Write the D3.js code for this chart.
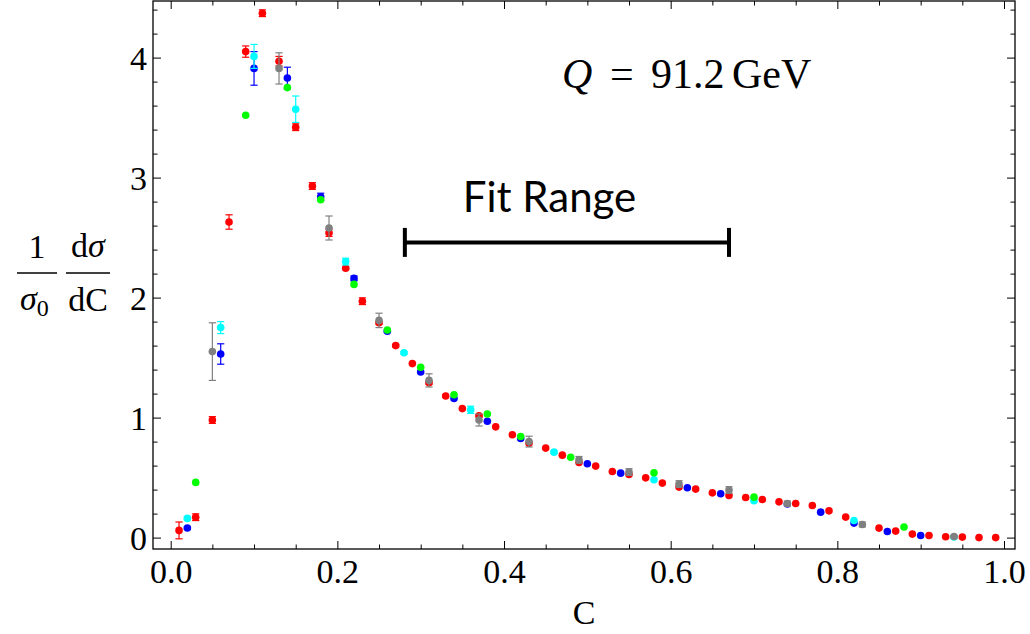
<!DOCTYPE html>
<html><head><meta charset="utf-8">
<script src="https://cdn.jsdelivr.net/npm/d3@7"></script>
<style>body{margin:0;background:#fff}svg{display:block}
.serif{font-family:"Liberation Serif","Times New Roman",Tinos,"DejaVu Serif",serif}
</style>
</head><body><svg id="chart" width="1030" height="634"></svg>
<script>
// ---- data ----
const redC = [0.01,0.03,0.05,0.07,0.09,0.11,0.13,0.15,0.17,0.19,0.21,0.23,0.25,0.27,0.29,0.31,0.33,0.35,0.37,0.39,0.41,0.43,0.45,0.47,0.49,0.51,0.53,0.55,0.57,0.59,0.61,0.63,0.65,0.67,0.69,0.71,0.73,0.75,0.77,0.79,0.81,0.85,0.87,0.89,0.91,0.93,0.95,0.97,0.99];
const redV = [0.06,0.17,0.98,2.63,4.05,4.37,3.97,3.42,2.93,2.54,2.245,1.97,1.79,1.60,1.45,1.29,1.18,1.075,1.015,0.923,0.857,0.787,0.746,0.687,0.626,0.596,0.551,0.526,0.498,0.454,0.421,0.404,0.373,0.351,0.334,0.318,0.298,0.284,0.268,0.223,0.171,0.079,0.054,0.029,0.018,0.007,0.004,0.0,0.0];
const redE = [0.07,0.028,0.028,0.06,0.047,0.028,0.04,0.028,0.028,0.03,0.01,0.028,0.01,0.01,0,0.01,0,0,0.01,0,0,0,0,0,0,0,0,0,0,0,0,0,0,0,0,0,0,0,0,0,0,0,0,0,0,0,0,0,0];

const blueC = [0.02,0.06,0.10,0.14,0.18,0.22,0.26,0.30,0.34,0.38,0.42,0.50,0.54,0.62,0.66,0.74,0.78,0.82,0.86,0.90];
const blueV = [0.08,1.53,3.91,3.83,2.84,2.16,1.72,1.38,1.16,0.97,0.826,0.615,0.537,0.415,0.365,0.28,0.212,0.121,0.051,0.018];
const blueE = [0.01,0.085,0.14,0.09,0.03,0.02,0.01,0,0,0,0,0,0,0,0,0,0,0,0,0];

const cyanC = [0.02,0.06,0.10,0.15,0.21,0.28,0.36,0.46,0.58,0.70,0.82,0.94];
const cyanV = [0.16,1.75,4.01,3.57,2.30,1.54,1.065,0.712,0.482,0.307,0.143,0.005];
const cyanE = [0.01,0.05,0.10,0.11,0.028,0.01,0.03,0.01,0,0,0,0];

const greenC = [0.03,0.09,0.14,0.18,0.22,0.26,0.30,0.34,0.38,0.42,0.48,0.58,0.70,0.88];
const greenV = [0.46,3.52,3.75,2.815,2.11,1.73,1.42,1.19,1.03,0.843,0.67,0.54,0.337,0.088];
const greenE = [0,0,0,0,0,0,0,0,0,0,0,0,0,0];

const grayC = [0.05,0.13,0.19,0.25,0.31,0.37,0.43,0.49,0.55,0.61,0.67,0.74,0.83,0.94];
const grayV = [1.55,3.91,2.58,1.81,1.31,0.98,0.80,0.648,0.546,0.446,0.396,0.284,0.109,0.009];
const grayE = [0.24,0.13,0.10,0.06,0.055,0.05,0.045,0.028,0.028,0.028,0.028,0.02,0.02,0.01];

const xTickValues = [0,0.2,0.4,0.6,0.8,1.0];
const xTickLabels = ["0.0","0.2","0.4","0.6","0.8","1.0"];
const yTickValues = [0,1,2,3,4];
const yTickLabels = ["0","1","2","3","4"];
const fitRange = [0.281, 0.670];
const fitLevel = 2.46;
const fitText = "Fit Range";
const energyText = "91.2";
const xTitle = "C";

// ---- layout ----
const L = 153, R = 1015, T = 1, B = 549;
const x = d3.scaleLinear().domain([-0.02124, 1.0132]).range([L, R]);
const y = d3.scaleLinear().domain([-0.095, 4.4717]).range([B, T]);
const svg = d3.select("#chart");

// ---- axes (ticks inward on all four sides) ----
const xMinor = d3.range(0, 1.0001, 0.05).filter(v => Math.abs(v*5 - Math.round(v*5)) > 1e-6);
const yMinor = d3.range(0, 4.4001, 0.2).filter(v => Math.abs(v - Math.round(v)) > 1e-6);

function styleAxis(g){ g.select(".domain").remove(); g.selectAll("line").attr("stroke","#000").attr("stroke-width",1); g.attr("font-family",null).attr("font-size",null); }

svg.append("g").attr("transform",`translate(0,${B})`)
  .call(d3.axisBottom(x).tickValues(xTickValues).tickSizeInner(-8).tickSizeOuter(0).tickFormat((d,i)=>xTickLabels[i]))
  .call(styleAxis)
  .call(g=>g.selectAll("text").attr("class","serif").attr("y",34).attr("dy",0).style("font-size","34px").attr("fill","#000"));
svg.append("g").attr("transform",`translate(0,${B})`)
  .call(d3.axisBottom(x).tickValues(xMinor).tickSizeInner(-4.5).tickSizeOuter(0).tickFormat(""))
  .call(styleAxis);
svg.append("g").attr("transform",`translate(0,${T})`)
  .call(d3.axisTop(x).tickValues(xTickValues).tickSizeInner(-8).tickSizeOuter(0).tickFormat(""))
  .call(styleAxis);
svg.append("g").attr("transform",`translate(0,${T})`)
  .call(d3.axisTop(x).tickValues(xMinor).tickSizeInner(-4.5).tickSizeOuter(0).tickFormat(""))
  .call(styleAxis);

svg.append("g").attr("transform",`translate(${L},0)`)
  .call(d3.axisLeft(y).tickValues(yTickValues).tickSizeInner(-8).tickSizeOuter(0).tickFormat((d,i)=>yTickLabels[i]))
  .call(styleAxis)
  .call(g=>g.selectAll("text").attr("class","serif").attr("x",-6).attr("dy",11.5).style("font-size","34px").attr("fill","#000"));
svg.append("g").attr("transform",`translate(${L},0)`)
  .call(d3.axisLeft(y).tickValues(yMinor).tickSizeInner(-4.5).tickSizeOuter(0).tickFormat(""))
  .call(styleAxis);
svg.append("g").attr("transform",`translate(${R},0)`)
  .call(d3.axisRight(y).tickValues(yTickValues).tickSizeInner(-8).tickSizeOuter(0).tickFormat(""))
  .call(styleAxis);
svg.append("g").attr("transform",`translate(${R},0)`)
  .call(d3.axisRight(y).tickValues(yMinor).tickSizeInner(-4.5).tickSizeOuter(0).tickFormat(""))
  .call(styleAxis);

svg.append("rect").attr("x",L).attr("y",T).attr("width",R-L).attr("height",B-T)
  .attr("fill","none").attr("stroke","#000").attr("stroke-width",1.3);

// ---- series ----
const series = [
  {c:redC, v:redV, e:redE, color:"#ff0000"},
  {c:blueC, v:blueV, e:blueE, color:"#0000ff"},
  {c:cyanC, v:cyanV, e:cyanE, color:"#00ffff"},
  {c:greenC, v:greenV, e:greenE, color:"#00ff00"},
  {c:grayC, v:grayV, e:grayE, color:"#808080"}
];
const plot = svg.append("g");
series.forEach(s => {
  const pts = s.c.map((c,i)=>({c, v:s.v[i], e:s.e[i]}));
  const g = plot.append("g");
  const eb = g.selectAll("g.eb").data(pts.filter(p=>p.e>0)).join("g").attr("stroke",s.color).attr("stroke-width",1.2);
  eb.append("line").attr("x1",p=>x(p.c)).attr("x2",p=>x(p.c)).attr("y1",p=>y(p.v+p.e)).attr("y2",p=>y(p.v-p.e));
  eb.append("line").attr("x1",p=>x(p.c)-3.6).attr("x2",p=>x(p.c)+3.6).attr("y1",p=>y(p.v+p.e)).attr("y2",p=>y(p.v+p.e));
  eb.append("line").attr("x1",p=>x(p.c)-3.6).attr("x2",p=>x(p.c)+3.6).attr("y1",p=>y(p.v-p.e)).attr("y2",p=>y(p.v-p.e));
  g.selectAll("circle").data(pts).join("circle")
    .attr("cx",p=>x(p.c)).attr("cy",p=>y(p.v)).attr("r",3.8).attr("fill",s.color);
});

// ---- fit range marker ----
const fr = svg.append("g").attr("stroke","#000").attr("stroke-width",4);
fr.append("line").attr("x1",x(fitRange[0])).attr("x2",x(fitRange[1])).attr("y1",y(fitLevel)).attr("y2",y(fitLevel));
fitRange.forEach(c => fr.append("line").attr("x1",x(c)).attr("x2",x(c)).attr("y1",y(fitLevel)-14.5).attr("y2",y(fitLevel)+14.5));
svg.append("text").attr("x",549.5).attr("y",212)
  .attr("text-anchor","middle").style("font-family","Lato,'Open Sans',sans-serif").style("font-size","42px").attr("fill","#000").text(fitText);

// ---- Q label ----
const q = svg.append("text").attr("class","serif").attr("y",88).style("font-size","42px").attr("fill","#000");
q.append("tspan").attr("x",562).style("font-style","italic").text("Q");
q.append("tspan").attr("x",610).text("=");
q.append("tspan").attr("x",651).text(energyText);
q.append("tspan").attr("x",732).text("GeV");

// ---- axis titles ----
svg.append("text").attr("class","serif").attr("x",(L+R)/2).attr("y",624).attr("text-anchor","middle")
  .style("font-size","34px").attr("fill","#000").text(xTitle);

const yl = svg.append("g").attr("fill","#000");
yl.append("text").attr("class","serif").style("font-size","34px").attr("x",37).attr("y",258).attr("text-anchor","middle").text("1");
yl.append("line").attr("x1",17).attr("x2",57).attr("y1",273).attr("y2",273).attr("stroke","#000").attr("stroke-width",1.6);
const den = yl.append("text").attr("class","serif").style("font-size","34px").attr("x",20).attr("y",310);
den.append("tspan").style("font-style","italic").text("σ");
den.append("tspan").style("font-size","24px").attr("dy",6).text("0");
const num2 = yl.append("text").attr("class","serif").style("font-size","34px").attr("x",88).attr("y",257).attr("text-anchor","middle");
num2.append("tspan").text("d");
num2.append("tspan").style("font-style","italic").text("σ");
yl.append("line").attr("x1",66).attr("x2",110).attr("y1",273).attr("y2",273).attr("stroke","#000").attr("stroke-width",1.6);
yl.append("text").attr("class","serif").style("font-size","34px").attr("x",88).attr("y",311).attr("text-anchor","middle").text("dC");
</script></body></html>
